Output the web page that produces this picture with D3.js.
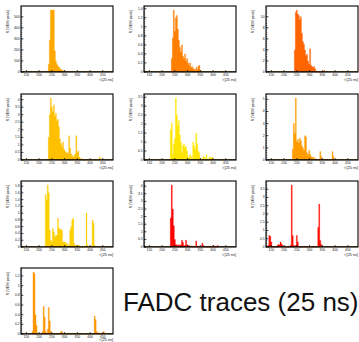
<!DOCTYPE html>
<html>
<head>
<meta charset="utf-8">
<script src="https://cdn.jsdelivr.net/npm/d3@7"></script>
<style>
  html, body { margin: 0; padding: 0; background: #fff; }
  svg { display: block; }
  text { font-family: "Liberation Sans", Arial, sans-serif; }
</style>
</head>
<body>
<svg id="chart" width="359" height="342"></svg>
<script>
// FADC traces of ten surface-detector stations, binned in t [25 ns]
const xTicks = [150, 200, 250, 300, 350, 400, 450];
const xDomain = [129, 490];
const binWidth = 4;

// first bin (t) of each trace
const traceStart = [236, 236, 236, 236, 228, 232, 224, 232, 136, 172];

// signal per bin, S [VEM peak]
const trace1 = [70, 291, 561, 561, 561, 561, 193, 100, 70, 55, 45, 30, 25, 18, 12, 9, 6, 4, 2];
const trace2 = [0.3, 0.75, 1.37, 0.9, 1.2, 1.25, 0.95, 0.7, 0.55, 0.45, 0.6, 0.35, 0.3, 0.4, 0.25, 0.3,
                0.2, 0.15, 0.2, 0.1, 0.12, 0.08, 0.06, 0.04, 0.1, 0.05, 0.12, 0.15, 0.04, 0.02];
const trace3 = [0, 4, 10.8, 11.2, 10.5, 10.2, 9.5, 10, 7, 5.5, 5, 4, 3, 3.2, 2, 1.5, 4.2, 1.2, 1, 0.8,
                1, 0.6, 0.2, 0.1, 0.05, 0, 0, 0, 0, 0, 0.3];
const trace4 = [1.5, 3.0, 4.1, 3.5, 3.2, 3.65, 2.9, 3.1, 2.6, 2.7, 2.2, 1.4, 1.1, 0.9, 1.2, 0.7, 0.6, 0.5,
                0.5, 0.4, 1.6, 0.8, 0.4, 0.3, 0.2, 0.3, 0.4, 1.6, 0.5, 0.6, 0.2, 0.1, 0.1, 0.05, 0, 0,
                0, 0, 0, 0, 0, 0, 0, 0, 0, 0, 0, 0, 0, 0, 0.2];
const trace5 = [0, 1.7, 2.05, 0.3, 0.9, 1.2, 3.45, 2.5, 1.9, 2.2, 1.4, 1.0, 0.4, 0.8, 0.9, 0.7, 0.75, 0.5,
                0.2, 0.1, 0.3, 0.2, 0.1, 1.0, 0.8, 0.6, 1.5, 0.9, 0.5, 0.4, 0.1, 0, 0.05, 0.2, 0.15, 0,
                0.3, 0.05, 0, 0.15, 0.15, 0.1, 0.15];
const trace6 = [0.9, 3.0, 2.2, 5.1, 1.5, 1.7, 1.4, 1.8, 1.6, 1.2, 1.0, 0.8, 2.0, 1.9, 0.6, 0.4, 0.8, 0.5,
                0.3, 0.2, 0.25, 0.1, 0.15, 0.05, 0.05, 0, 0.05, 0.7, 0.3, 0.05, 0.05, 0.05, 0.05, 0, 0.05,
                0, 0.05, 0, 0, 0.7, 0.3];
const trace7 = [1.55, 1.4, 1.83, 1.6, 0.5, 0.2, 0.15, 0.55, 0.45, 0.3, 0.35, 0.35, 0.85, 0.55, 0.55, 0.5,
                0.5, 0.15, 0.15, 0.15, 0.1, 0.1, 0.05, 0.05, 0.5, 0.6, 0.8, 0.85, 0.1, 0.05, 0.05, 0, 0.05,
                0.05, 0, 0, 0, 0, 0, 0, 1.0, 0.05, 0, 0, 0, 0, 0.8, 0.7, 0.05];
const trace8 = [1.9, 4.07, 2.5, 1.4, 0.5, 0.15, 0.15, 0.1, 0.15, 0.1, 0.15, 0.45, 0.3, 0.1, 0.1, 0.45,
                0.15, 0.1, 0.1, 0.05, 0.05, 0.05, 0.05, 0.05, 0.05, 0.4, 0.05, 0.05, 0, 0.05, 0.02, 0.25,
                0.1, 0.05, 0.03, 0.03, 0, 0.03, 0, 0.03, 0, 0, 0.1, 0, 0, 0, 0.1];
const trace9 = [0.1, 0.7, 0.65, 0.3, 0.05, 0, 0, 0, 0, 0.1, 0.15, 0.12, 0.3, 0.2, 0.1, 0.05, 0, 0, 0, 0,
                0, 0.05, 0.1, 3.75, 0.7, 0.1, 0.05, 0.1, 0.7, 0.3, 0.05, 0, 0, 0, 0, 0, 0, 0, 0, 0, 0,
                0, 0, 0, 0, 0.05, 0, 0, 0, 1.2, 2.6, 0.4, 0.15, 0.05];
const trace10 = [0.05, 1.28, 1.25, 0.4, 0.18, 0, 0, 0, 0, 0, 0.05, 0.57, 0.35, 0.05, 0, 0.1, 0.55, 0.27,
                 0.05, 0, 0, 0, 0, 0, 0, 0, 0, 0, 0.05, 0.05, 0, 0, 0, 0, 0, 0, 0, 0, 0, 0, 0, 0, 0, 0,
                 0, 0, 0, 0, 0, 0, 0, 0, 0, 0, 0, 0, 0, 0, 0, 0, 0, 0.37, 0.3, 0.05, 0, 0.03, 0, 0, 0, 0,
                 0.05];
const traceValues = [trace1, trace2, trace3, trace4, trace5, trace6, trace7, trace8, trace9, trace10];

// y-axis tick step of each panel
const yTickStep = [100, 0.2, 2, 0.5, 0.5, 1, 0.2, 0.5, 0.5, 0.2];
const traceColors = ["#ffa800", "#ff7f00", "#ff6400", "#ffc000", "#ffe600",
                     "#ff9c00", "#ffd000", "#ff0000", "#ff0c00", "#ff9600"];

// pad geometry
const colLeft = [21, 144, 266];
const colRight = [113, 236, 358];
const rowTop = [6, 94, 181, 268];
const frameH = 66;

const svg = d3.select("#chart");
const fmt = v => String(+v.toFixed(3));

traceValues.forEach((vals, k) => {
  const col = k % 3, row = Math.floor(k / 3);
  const left = colLeft[col], right = colRight[col];
  const top = rowTop[row], bottom = top + frameH;

  const x = d3.scaleLinear().domain(xDomain).range([left, right]);
  const yMax = d3.max(vals) * 1.066;
  const y = d3.scaleLinear().domain([0, yMax]).range([bottom, top]);

  const g = svg.append("g");

  // histogram as a stepped filled area
  const pts = vals.map((v, i) => [traceStart[k] + i * binWidth, v]);
  pts.push([traceStart[k] + vals.length * binWidth, 0]);
  const area = d3.area()
    .x(d => x(d[0]))
    .y0(y(0))
    .y1(d => y(d[1]))
    .curve(d3.curveStepAfter);
  g.append("path")
    .attr("d", area(pts))
    .attr("fill", traceColors[k])
    .attr("stroke", traceColors[k])
    .attr("stroke-width", 0.3);

  // y ticks (major + minor, drawn inside the frame)
  const step = yTickStep[k];
  const majors = d3.range(0, yMax + 1e-9, step);
  const minors = d3.range(0, yMax + 1e-9, step / 5);
  g.selectAll(".ymin").data(minors).join("line")
    .attr("x1", left).attr("x2", left + 1.2)
    .attr("y1", d => y(d)).attr("y2", d => y(d))
    .attr("stroke", "#000").attr("stroke-width", 0.6);
  g.selectAll(".ymaj").data(majors).join("line")
    .attr("x1", left).attr("x2", left + 2.4)
    .attr("y1", d => y(d)).attr("y2", d => y(d))
    .attr("stroke", "#000").attr("stroke-width", 0.7);
  g.selectAll(".ylab").data(majors).join("text")
    .attr("x", left - 1.5).attr("y", d => y(d) + 1)
    .attr("text-anchor", "end")
    .attr("font-size", 3.3)
    .attr("fill", "#111")
    .text(fmt);

  // x ticks
  const xMinors = d3.range(130, 490, 10);
  g.selectAll(".xmin").data(xMinors).join("line")
    .attr("x1", d => x(d)).attr("x2", d => x(d))
    .attr("y1", bottom).attr("y2", bottom - 1)
    .attr("stroke", "#000").attr("stroke-width", 0.6);
  g.selectAll(".xmaj").data(xTicks).join("line")
    .attr("x1", d => x(d)).attr("x2", d => x(d))
    .attr("y1", bottom).attr("y2", bottom - 2)
    .attr("stroke", "#000").attr("stroke-width", 0.7);
  g.selectAll(".xlab").data(xTicks).join("text")
    .attr("x", d => x(d)).attr("y", bottom + 4.2)
    .attr("text-anchor", "middle")
    .attr("font-size", 3.3)
    .attr("fill", "#111")
    .text(fmt);

  // zero line of the histogram along the frame bottom
  g.append("line")
    .attr("x1", left).attr("x2", right)
    .attr("y1", bottom - 0.4).attr("y2", bottom - 0.4)
    .attr("stroke", "#4a3000").attr("stroke-width", 0.8);

  // frame
  g.append("rect")
    .attr("x", left).attr("y", top)
    .attr("width", right - left).attr("height", bottom - top)
    .attr("fill", "none").attr("stroke", "#000").attr("stroke-width", 1.1);

  // axis titles
  g.append("text")
    .attr("x", right).attr("y", Math.min(bottom + 8.5, 341))
    .attr("text-anchor", "end")
    .attr("font-size", 3.8)
    .attr("fill", "#111")
    .text("t [25 ns]");
  g.append("text")
    .attr("transform", `translate(${left - 12},${top + 4}) rotate(-90)`)
    .attr("text-anchor", "end")
    .attr("font-size", 3.8)
    .attr("fill", "#111")
    .text("S [VEM peak]");
});

svg.append("text")
  .attr("x", 123).attr("y", 311)
  .attr("font-size", 26)
  .attr("fill", "#111")
  .text("FADC traces (25 ns)");
</script>
</body>
</html>
